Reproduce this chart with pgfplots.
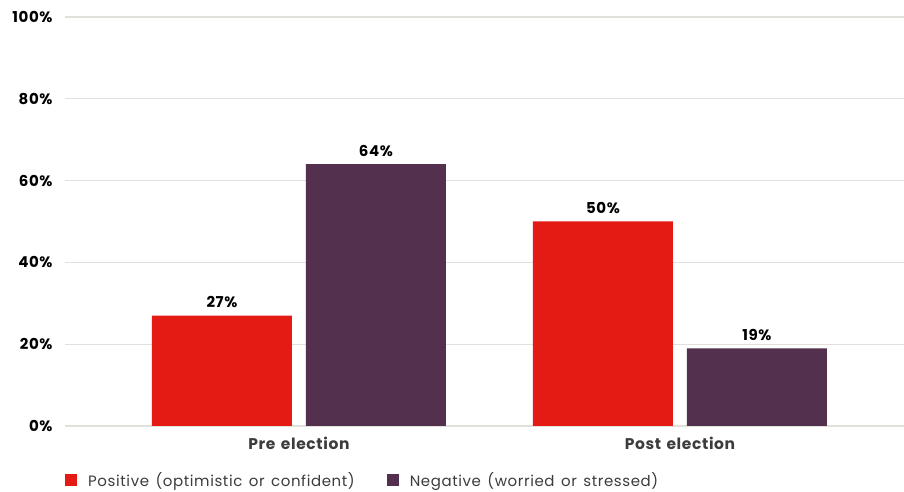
\documentclass[border=0pt]{standalone}
\usepackage{pgfplots}
\pgfplotsset{compat=1.18}
\usepackage{fontspec}
\setmainfont{Poppins}[LetterSpace=4,WordSpace=1.4]
\definecolor{cred}{HTML}{E31B14}
\definecolor{cpur}{HTML}{54304F}
\definecolor{cgrid}{HTML}{E2E0DA}
\definecolor{ctxt}{HTML}{3C3C3C}
\begin{document}
\begin{tikzpicture}[x=1pt,y=1pt]
\useasboundingbox (-65,-66) rectangle (839,426);
\begin{axis}[
  scale only axis, width=839pt, height=409pt,
  at={(0,0)}, anchor=south west,
  ybar, bar width=140pt,
  xmin=-0.614, xmax=1.588, ymin=0, ymax=100,
  xtick={0,1}, xticklabels={Pre election, Post election},
  xticklabel style={font=\bfseries\fontsize{15.5}{17}\selectfont, text=ctxt, yshift=-8pt},
  ytick={0,20,40,60,80,100},
  yticklabel={\pgfmathprintnumber{\tick}\%},
  yticklabel style={font=\bfseries\fontsize{15}{17}\selectfont, text=black, xshift=-9pt},
  /pgf/number format/assume math mode=true,
  ymajorgrids, grid style={cgrid, line width=1.2pt},
  axis line style={draw=none},
  major tick length=0pt,
  nodes near coords={\pgfmathprintnumber{\pgfplotspointmeta}\%},
  nodes near coords style={font=\bfseries\fontsize{15}{17}\selectfont, text=black, yshift=4pt},
  legend style={at={(0,-66pt)}, anchor=south west, yshift=0pt, draw=none, fill=none,
    font=\fontsize{15}{17}\selectfont, text=ctxt, legend columns=2,
    /tikz/every even column/.append style={column sep=30pt},
    /tikz/every odd column/.append style={column sep=9pt},
    cells={anchor=west},
    inner xsep=0pt},
  legend image code/.code={\fill[#1] (0pt,-6pt) rectangle (12pt,6pt);},
  clip=false,
]
\addplot[fill=cred, draw=none, bar shift=-77pt] coordinates {(0,27) (1,50)};
\addplot[fill=cpur, draw=none, bar shift=77pt] coordinates {(0,64) (1,19)};
\legend{Positive (optimistic or confident), Negative (worried or stressed)}
\end{axis}
\end{tikzpicture}
\end{document}
